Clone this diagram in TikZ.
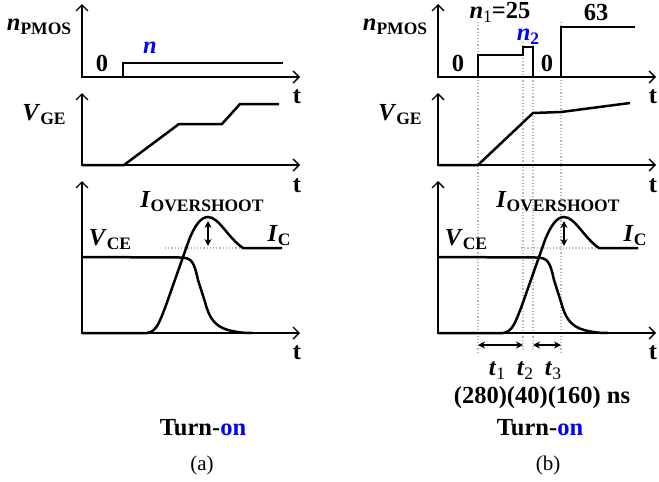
\documentclass[tikz,border=0pt]{standalone}
\usepackage{fontspec}
\setmainfont{Liberation Serif}
\usepackage{tikz}
\usetikzlibrary{arrows.meta, positioning}

% signal name: bold italic letter, bold upright subscript
\newcommand{\sig}[2]{\textbf{\textit{#1}}\raisebox{-0.35ex}{\fontsize{17.5}{18}\selectfont\bfseries #2}}
% time name: bold italic letter, plain subscript
\newcommand{\tsub}[2]{\textbf{\textit{#1}}\raisebox{-0.35ex}{\fontsize{17.5}{18}\selectfont\mdseries #2}}

\tikzstyle{timeaxis} = [line width=1.4pt,
    {Straight Barb[length=6pt, width=12pt]}-{Straight Barb[length=6pt, width=12pt]}]
\tikzstyle{wave} = [line width=2.5pt, line join=miter]
\tikzstyle{guide} = [draw=gray!55, dotted, line width=1.2pt]
\tikzstyle{dimarrow} = [line width=1.4pt, {Stealth[length=7pt, width=7pt]}-{Stealth[length=7pt, width=7pt]}]
\tikzstyle{lbl} = [inner sep=0pt, font=\fontsize{24.5}{27}\selectfont\bfseries]
\tikzstyle{subcap} = [inner sep=0pt, font=\fontsize{21}{24}\selectfont]

\begin{document}
\begin{tikzpicture}[x=1pt, y=-1pt]
    \useasboundingbox (0,0) rectangle (659,482);

    % guide lines of panel (b)
    \draw[guide] (478,22) -- (478,352);
    \draw[guide] (523,42) -- (523,352);
    \draw[guide] (533,42) -- (533,352);
    \draw[guide] (561,22) -- (561,352);

    % axes and the switching waveforms, same in both panels
    \foreach \dx/\p in {0/a, 356/b} {
        \begin{scope}[xshift=\dx]
            \draw[timeaxis] (82,4) -- (82,77) -- (300,77);
            \draw[timeaxis] (82,93) -- (82,165) -- (300,165);
            \draw[timeaxis] (82,181) -- (82,333) -- (300,333);
            \node[lbl] (ttop\p) at (297,97) {t};
            \node[lbl] (tmid\p) at (297,186) {t};
            \node[lbl] (tbot\p) at (297,353) {t};

            \node[lbl] (npmos\p) at (39,27) {\sig{n}{PMOS}};
            \node[lbl] (vge\p) at (44,115) {\sig{V}{GE}};

            \draw[guide] (165,248) -- (282,248);
            \draw[wave] (82,333) -- (147,333)
                .. controls (157,332) and (160,320) .. (165,308)
                -- (189,240)
                .. controls (195,225) and (201,217) .. (208,217)
                .. controls (219,217) and (228,238) .. (243,248)
                -- (282,248);
            \draw[wave] (82,257) -- (180,257.5)
                .. controls (192,257.5) and (194,262) .. (198,280)
                -- (205,302)
                .. controls (209,317) and (214,326) .. (228,330)
                .. controls (236,332) and (241,333) .. (252,333);
            \coordinate (pk\p) at (208,221);
            \coordinate (pl\p) at (208,246);
            \draw[dimarrow] (pk\p) -- (pl\p);

            \node[lbl] (iov\p) at (202,202) {\sig{I}{OVERSHOOT}};
            \node[lbl] (ic\p) at (279,236) {\sig{I}{C}};
            \node[lbl] (vce\p) at (110,240) {\sig{V}{CE}};
        \end{scope}
    }

    % panel (a)
    \draw[wave] (82,77) -- (123,77) -- (123,63) -- (283,63);
    \draw[wave] (82,165) -- (124,165) -- (179,124) -- (222,124) -- (240,104) -- (279,104);
    \node[lbl] (zeroa) at (102,63) {0};
    \node[lbl, text=blue] (nval) at (150,48) {\textit{n}};
    \node[lbl] (turna) at (203,428) {Turn-\textcolor{blue}{on}};
    \node[subcap] (capa) at (202,465) {(a)};

    % panel (b)
    \draw[wave] (438,77) -- (478,77) -- (478,55) -- (523,55) -- (523,47) -- (533,47)
        -- (533,77) -- (561,77) -- (561,27) -- (635,27);
    \draw[wave] (438,165) -- (478,165) -- (533,113) -- (561,112) -- (630,103);
    \node[lbl] (zerob) at (458,63) {0};
    \node[lbl] (zeroc) at (547,63) {0};
    \node[lbl] (none) at (500,12.5) {\tsub{n}{1}=25};
    \node[lbl, text=blue] (ntwo) at (528,37) {\sig{n}{2}};
    \node[lbl] (nmax) at (596,13) {63};

    \coordinate (ga) at (478,345);
    \coordinate (gb) at (523,345);
    \coordinate (gc) at (533,345);
    \coordinate (gd) at (561,345);
    \draw[dimarrow] (ga) -- (gb);
    \draw[dimarrow] (gc) -- (gd);
    \node[lbl] (tone) at (497,371) {\tsub{t}{1}};
    \node[lbl] (ttwo) at (525,371) {\tsub{t}{2}};
    \node[lbl] (tthree) at (553,371) {\tsub{t}{3}};
    \node[lbl] (times) at (542,398) {(280)(40)(160) ns};
    \node[lbl] (turnb) at (540,428) {Turn-\textcolor{blue}{on}};
    \node[subcap] (capb) at (548,465) {(b)};
\end{tikzpicture}
\end{document}
